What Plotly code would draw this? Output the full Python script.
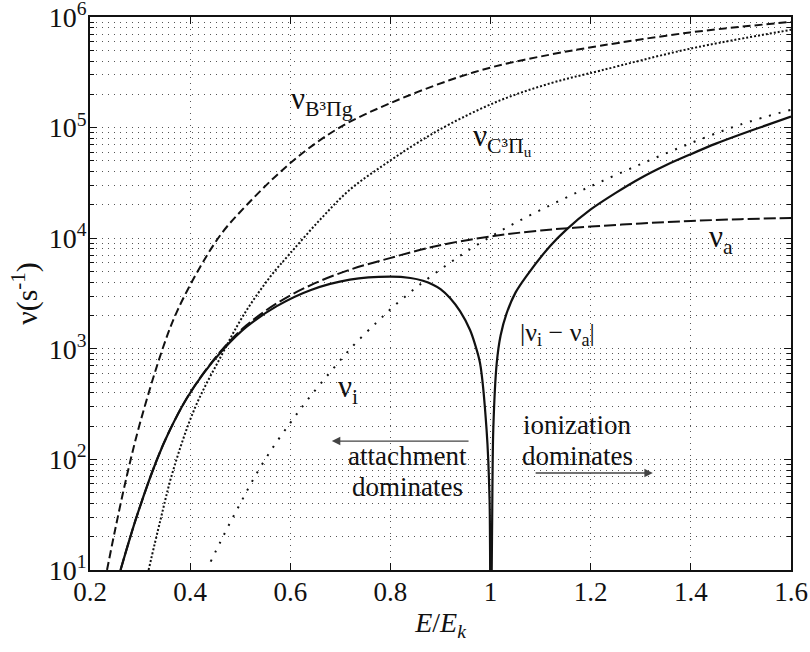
import plotly.graph_objects as go

# ---- data ----
E_B = [0.234, 0.25, 0.273, 0.3, 0.345, 0.373, 0.42, 0.464, 0.513, 0.573, 0.633, 0.706, 0.799, 0.919, 1.006, 1.119, 1.219, 1.398, 1.6]
nu_B = [10, 22.9, 69.2, 214, 1000, 2138, 5495, 11220, 19953, 37154, 63096, 104713, 165959, 269153, 354813, 457088, 549541, 724436, 903649]

E_C = [0.317, 0.34, 0.366, 0.41, 0.463, 0.506, 0.56, 0.6, 0.66, 0.719, 0.786, 0.853, 0.919, 1.019, 1.119, 1.219, 1.398, 1.6]
nu_C = [10, 27.5, 79.4, 295, 879, 1995, 4487, 7311, 14791, 27479, 45709, 72444, 107895, 176198, 251189, 327341, 516416, 765597]

E_a = [0.261, 0.293, 0.333, 0.36, 0.393, 0.426, 0.466, 0.513, 0.573, 0.64, 0.719, 0.799, 0.86, 0.919, 1.006, 1.1, 1.2, 1.3, 1.4, 1.5, 1.6]
nu_a = [10, 30.2, 97.7, 186, 355, 596, 1009, 1637, 2576, 3750, 5188, 6607, 7852, 9016, 10471, 11749, 12735, 13583, 14322, 14859, 15241]

E_i = [0.441, 0.46, 0.48, 0.5, 0.526, 0.56, 0.6, 0.633, 0.68, 0.726, 0.773, 0.803, 0.853, 0.913, 0.959, 1.006, 1.05, 1.1, 1.15, 1.2, 1.3, 1.4, 1.5, 1.6]
nu_i = [11.9, 17.8, 26.9, 39.8, 66, 118, 214, 339, 617, 1070, 1740, 2340, 3630, 5750, 7940, 10700, 13800, 18000, 23200, 29500, 46800, 72400, 107000, 145000]

E_d = [0.261, 0.293, 0.333, 0.36, 0.393, 0.426, 0.466, 0.513, 0.573, 0.64, 0.719, 0.799, 0.84, 0.865, 0.885, 0.9, 0.919, 0.939, 0.959, 0.969, 0.979, 0.992, 0.998, 1.0,
       1.003, 1.0054, 1.0123, 1.02, 1.032, 1.05, 1.072, 1.119, 1.152, 1.2, 1.25, 1.3, 1.35, 1.4, 1.45, 1.5, 1.55, 1.6]
nu_d = [10, 30.2, 97.7, 186, 355, 594, 986, 1585, 2432, 3388, 4217, 4487, 4365, 4121, 3802, 3467, 2884, 2188, 1479, 1096, 741, 186, 43, 1,
        22.9, 186, 741, 1318, 2089, 3236, 4571, 8511, 12023, 18197, 25704, 35075, 45709, 57544, 71614, 87096, 104713, 125893]

x_ticks = [0.2, 0.4, 0.6, 0.8, 1.0, 1.2, 1.4, 1.6]
x_tick_text = ["0.2", "0.4", "0.6", "0.8", "1", "1.2", "1.4", "1.6"]
y_ticks = [1e1, 1e2, 1e3, 1e4, 1e5, 1e6]
y_tick_text = ["10<sup>1</sup>", "10<sup>2</sup>", "10<sup>3</sup>", "10<sup>4</sup>", "10<sup>5</sup>", "10<sup>6</sup>"]

FONT = "Liberation Serif, Times New Roman, DejaVu Serif, serif"
INK = "#111111"
GRID = "#555555"

fig = go.Figure()

fig.add_trace(go.Scatter(x=E_B, y=nu_B, mode="lines",
                         line=dict(color=INK, width=2, dash="8px,4px", shape="spline", smoothing=1)))
fig.add_trace(go.Scatter(x=E_C, y=nu_C, mode="lines",
                         line=dict(color=INK, width=2, dash="2px,2px", shape="spline", smoothing=1)))
fig.add_trace(go.Scatter(x=E_a, y=nu_a, mode="lines",
                         line=dict(color=INK, width=2, dash="12px,4px", shape="spline", smoothing=1)))
fig.add_trace(go.Scatter(x=E_i, y=nu_i, mode="lines",
                         line=dict(color=INK, width=2, dash="2px,8px", shape="spline", smoothing=1)))
fig.add_trace(go.Scatter(x=E_d, y=nu_d, mode="lines",
                         line=dict(color=INK, width=2.2, shape="spline", smoothing=0.8)))

ann = []
def txt(x, ylog, s, size=27, xanchor="left"):
    ann.append(dict(x=x, y=ylog, xref="x", yref="y", text=s, showarrow=False,
                    xanchor=xanchor, yanchor="middle",
                    font=dict(family=FONT, size=size, color=INK)))

txt(0.598, 5.24, "ν<sub>B³Πg</sub>", 31)
txt(0.961, 4.90, "ν<sub>C³Π<sub>u</sub></sub>", 31)
txt(1.432, 3.99, "ν<sub>a</sub>", 31)
txt(0.692, 2.64, "ν<sub>i</sub>", 31)
txt(1.054, 3.13, "|ν<sub>i</sub> − ν<sub>a</sub>|", 26)
txt(0.834, 2.03, "attachment", 27, "center")
txt(0.834, 1.75, "dominates", 27, "center")
txt(1.173, 2.31, "ionization", 27, "center")
txt(1.173, 2.03, "dominates", 27, "center")

# arrows
ann.append(dict(x=0.683, y=2.166, ax=0.959, ay=2.166, xref="x", yref="y", axref="x", ayref="y",
                text="", showarrow=True, arrowhead=2, arrowsize=1.3, arrowwidth=1.3, arrowcolor="#444444"))
ann.append(dict(x=1.324, y=1.877, ax=1.087, ay=1.877, xref="x", yref="y", axref="x", ayref="y",
                text="", showarrow=True, arrowhead=2, arrowsize=1.3, arrowwidth=1.3, arrowcolor="#444444"))

fig.update_layout(
    width=810, height=652,
    margin=dict(l=90, r=19, t=17, b=82, autoexpand=False),
    paper_bgcolor="white", plot_bgcolor="white",
    showlegend=False,
    font=dict(family=FONT, color=INK),
    annotations=ann,
    xaxis=dict(
        range=[0.2, 1.6], tickvals=x_ticks, ticktext=x_tick_text, automargin=False,
        ticks="inside", ticklen=7, tickwidth=1, tickcolor=INK,
        showline=True, linecolor=INK, linewidth=1.5, mirror="ticks",
        showgrid=True, gridcolor=GRID, gridwidth=1, griddash="1px,5px",
        zeroline=False, ticklabelstandoff=-3, ticklabeloverflow="allow",
        tickfont=dict(family=FONT, size=27, color=INK),
        title=dict(text="<i>E</i>/<i>E</i><sub><i>k</i></sub>", font=dict(family=FONT, size=28, color=INK), standoff=6),
    ),
    yaxis=dict(
        type="log", range=[0.9999, 6.0001], tickvals=y_ticks, ticktext=y_tick_text, automargin=False,
        ticks="inside", ticklen=7, tickwidth=1, tickcolor=INK,
        showline=True, linecolor=INK, linewidth=1.5, mirror="ticks",
        showgrid=True, gridcolor=GRID, gridwidth=1, griddash="1px,5px",
        zeroline=False, ticklabelstandoff=-4, ticklabeloverflow="allow",
        tickfont=dict(family=FONT, size=28, color=INK),
        minor=dict(dtick="D1", ticks="inside", ticklen=4, tickcolor=INK,
                   showgrid=True, gridcolor=GRID, gridwidth=1, griddash="1px,5px"),
        title=dict(text="ν(s<sup>-1</sup>)", font=dict(family=FONT, size=30, color=INK), standoff=2),
    ),
)

fig.write_html("out.html")
